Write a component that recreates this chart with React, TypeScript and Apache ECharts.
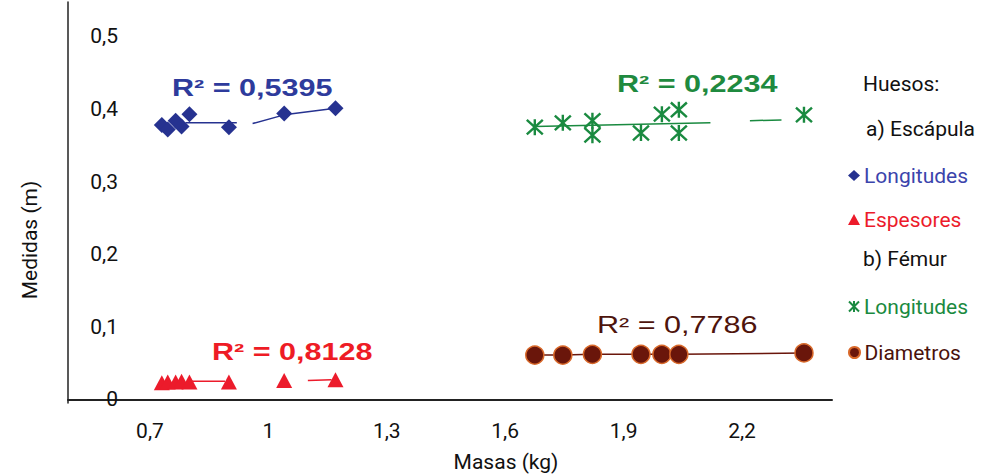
import React, { useEffect, useRef } from "react";
import * as echarts from "echarts";

// ---- Data ----
const scapulaMass = [0.73, 0.745, 0.765, 0.78, 0.8, 0.9, 1.04, 1.17];
const scapulaLength = [0.378, 0.372, 0.384, 0.376, 0.393, 0.375, 0.394, 0.401];
const scapulaThickness = [0.023, 0.024, 0.024, 0.025, 0.024, 0.024, 0.026, 0.027];

const femurMassL = [1.675, 1.746, 1.821, 1.821, 1.944, 1.997, 2.04, 2.04, 2.357];
const femurLength = [0.375, 0.381, 0.384, 0.364, 0.367, 0.393, 0.399, 0.367, 0.392];
const femurMassD = [1.675, 1.746, 1.821, 1.944, 1.997, 2.04, 2.357];
const femurDiameter = [0.061, 0.061, 0.062, 0.062, 0.062, 0.062, 0.064];

// trend segments as drawn in the reference ('-' = gap)
const blueTrend: any[] = [[0.79, 0.381], [0.92, 0.381], [0.94, "-"], [0.96, 0.38], [1.04, 0.392], [1.17, 0.401]];
const redTrend: any[] = [[0.8, 0.025], [0.89, 0.025], [1.0, "-"], [1.1, 0.026], [1.16, 0.027]];
const greenTrend: any[] = [[1.675, 0.376], [2.12, 0.381], [2.17, "-"], [2.22, 0.384], [2.3, 0.385]];

const xTicks = [0.7, 1, 1.3, 1.6, 1.9, 2.2];
const yTicks = [0, 0.1, 0.2, 0.3, 0.4, 0.5];

const r2Labels = ["R² = 0,5395", "R² = 0,8128", "R² = 0,2234", "R² = 0,7786"];
const seriesNames = ["Longitudes (escápula)", "Espesores", "Longitudes (fémur)", "Diametros"];
const headers = ["Huesos:", "a) Escápula", "b) Fémur"];
const axisNames = ["Masas (kg)", "Medidas (m)"];

const BLUE = "#263290";
const RED = "#ec1b2b";
const GREEN = "#1a8a40";
const BROWN = "#6a160b";
const FONT = "Roboto, 'Noto Sans', sans-serif";

const zip = (a: number[], b: number[]) => a.map((v, i) => [v, b[i]]);
const fmt = (v: number) => (v === 0 ? "0" : String(Math.round(v * 10) / 10).replace(".", ","));

const STAR = "path://M0,0L20,20M20,0L0,20M10,-1L10,21";

export default function App() {
  const ref = useRef<HTMLDivElement>(null);
  useEffect(() => {
    const chart = echarts.init(ref.current!, null, { renderer: "svg" });
    const r2Text = (text: string, x: number, y: number, color: string, weight = "bold") => ({
      type: "text",
      x,
      y,
      scaleX: 1.33,
      style: {
        text,
        fill: color,
        fontSize: 23,
        fontWeight: weight,
        fontFamily: "'Liberation Sans', Arial, sans-serif",
        textAlign: "left",
        textVerticalAlign: "middle",
      },
    });
    const plain = (text: string, x: number, y: number, extra: any = {}) => ({
      type: "text",
      x,
      y,
      ...extra,
      style: {
        text,
        fill: "#111",
        fontSize: 21,
        fontFamily: FONT,
        textAlign: "left",
        textVerticalAlign: "middle",
        ...(extra.style || {}),
      },
    });
    const legendAt = (name: string, top: number, color: string) => ({
      data: [name],
      left: 843,
      top,
      itemWidth: 12,
      itemHeight: 11,
      selectedMode: false,
      formatter: (n: string) => n.split(" (")[0],
      textStyle: { color, fontSize: 21, fontFamily: FONT, padding: [0, 0, 0, -1] },
    });
    chart.setOption({
      animation: false,
      backgroundColor: "#ffffff",
      grid: { left: 68, right: 150, top: 2, bottom: 71 },
      xAxis: {
        type: "value",
        min: 0.4923,
        max: 2.428,
        axisLine: { show: true, lineStyle: { color: "#222", width: 2 } },
        axisTick: { show: false },
        splitLine: { show: false },
        axisLabel: {
          customValues: xTicks,
          formatter: fmt,
          margin: 17,
          color: "#111",
          fontSize: 21,
          fontFamily: FONT,
        },
      },
      yAxis: {
        type: "value",
        min: -0.005,
        max: 0.5475,
        axisLine: { show: true, onZero: false, lineStyle: { color: "#222", width: 1.5 } },
        axisTick: { show: false },
        splitLine: { show: false },
        axisLabel: {
          customValues: yTicks,
          formatter: fmt,
          inside: true,
          align: "right",
          margin: 50,
          color: "#111",
          fontSize: 21,
          fontFamily: FONT,
        },
      },
      legend: [
        legendAt(seriesNames[0], 160, "#3b44ac"),
        legendAt(seriesNames[1], 204, RED),
        legendAt(seriesNames[2], 291, GREEN),
        legendAt(seriesNames[3], 337, "#4a120c"),
      ],
      series: [
        {
          type: "line",
          data: blueTrend,
          symbol: "none",
          lineStyle: { color: BLUE, width: 1.5 },
          z: 1,
        },
        {
          type: "line",
          data: redTrend,
          symbol: "none",
          lineStyle: { color: RED, width: 1.5 },
          z: 1,
        },
        {
          type: "line",
          data: greenTrend,
          symbol: "none",
          lineStyle: { color: GREEN, width: 1.5 },
          z: 1,
        },
        {
          type: "line",
          data: zip(femurMassD, femurDiameter),
          symbol: "none",
          lineStyle: { color: BROWN, width: 1.5 },
          z: 1,
        },
        {
          name: seriesNames[0],
          type: "scatter",
          data: zip(scapulaMass, scapulaLength),
          symbol: "diamond",
          symbolSize: 16,
          itemStyle: { color: BLUE, opacity: 1 },
          z: 3,
        },
        {
          name: seriesNames[1],
          type: "scatter",
          data: zip(scapulaMass, scapulaThickness),
          symbol: "triangle",
          symbolSize: [16, 15],
          itemStyle: { color: RED, opacity: 1 },
          z: 3,
        },
        {
          name: seriesNames[2],
          type: "scatter",
          data: zip(femurMassL, femurLength),
          symbol: STAR,
          symbolSize: 16,
          itemStyle: { color: "rgba(0,0,0,0)", borderColor: GREEN, borderWidth: 2.4, opacity: 1 },
          z: 3,
        },
        {
          name: seriesNames[3],
          type: "scatter",
          data: zip(femurMassD, femurDiameter),
          symbol: "circle",
          symbolSize: 18,
          itemStyle: { color: BROWN, borderColor: "#d9692a", borderWidth: 1.5, opacity: 1 },
          z: 3,
        },
      ],
      graphic: [
        r2Text(r2Labels[0], 172, 88, "#2e3b9c"),
        r2Text(r2Labels[1], 212, 352, "#ee1c25"),
        r2Text(r2Labels[2], 617, 84, "#1f8a3f"),
        r2Text(r2Labels[3], 597, 325, "#4e140c", "normal"),
        plain(headers[0], 863, 84),
        plain(headers[1], 866, 129),
        plain(headers[2], 863, 259),
        plain(axisNames[0], 506, 462, { style: { textAlign: "center" } }),
        plain(axisNames[1], 30, 240, { rotation: Math.PI / 2, style: { textAlign: "center" } }),
      ],
    });
    return () => chart.dispose();
  }, []);
  return (
    <div
      ref={ref}
      style={{ position: "absolute", left: 0, top: 0, width: 982, height: 474 }}
    />
  );
}
